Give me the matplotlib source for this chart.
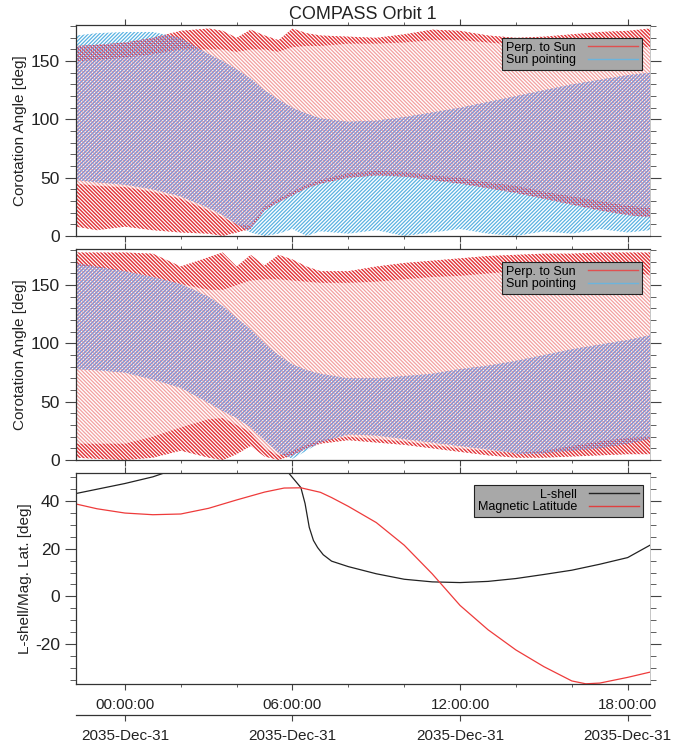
import numpy as np
import matplotlib
matplotlib.use('Agg')
import matplotlib.pyplot as plt
from matplotlib.lines import Line2D
from matplotlib.path import Path
from matplotlib.ticker import MultipleLocator

plt.rcParams['font.family'] = ['Liberation Sans', 'DejaVu Sans']
plt.rcParams['hatch.linewidth'] = 0.9
plt.rcParams['axes.unicode_minus'] = False

# time axis in hours from 2035-Dec-31 00:00
t_band = [-1.75, -1, 0, 1, 2, 3, 3.5, 4, 4.5, 5, 5.5, 6, 6.5, 7, 8, 9, 10, 11,
          12, 13, 14, 15, 16, 17, 18, 18.8]

# panel 1: corotation angle ranges [deg]
p1_red_lo = [8, 5, 8, 5, 3, 2, 0, 3, 6, 22, 29, 35, 41, 45, 50, 52, 51, 48,
             45, 41, 37, 32, 27, 22, 18, 16]
p1_red_lo_in = [45, 43, 42, 38, 32, 22, 16, 10, 9, 25, 32, 38, 44, 48, 54, 56, 55, 52,
                50, 46, 43, 38, 34, 30, 26, 24]
p1_red_hi_in = [150, 151, 153, 156, 160, 160, 160, 158, 160, 160, 158, 162, 163, 163, 165, 165, 166, 168,
                168, 166, 164, 163, 163, 164, 163, 162]
p1_red_hi = [163, 164, 166, 170, 176, 178, 176, 170, 177, 172, 168, 178, 174, 172, 171, 170, 173, 177,
             176, 172, 170, 171, 173, 175, 176, 178]
p1_blue_lo = [48, 46, 44, 40, 34, 24, 18, 10, 3, 0, 2, 6, 0, 4, 2, 5, 0, 3,
              6, 2, 0, 4, 2, 6, 3, 5]
p1_blue_hi = [172, 174, 175, 175, 170, 156, 150, 143, 135, 125, 117, 110, 105, 101, 98, 99, 102, 106,
              110, 115, 120, 125, 130, 134, 138, 140]

# panel 2
p2_red_lo = [2, 1, 0, 2, 8, 2, 0, 5, 12, 3, 0, 4, 10, 14, 17, 15, 13, 10,
             7, 4, 2, 2, 3, 4, 5, 5]
p2_red_lo_in = [14, 14, 14, 20, 28, 35, 36, 30, 24, 10, 4, 8, 13, 17, 20, 18, 16, 13,
                10, 8, 6, 8, 12, 16, 19, 20]
p2_red_hi_in = [167, 165, 162, 157, 151, 146, 146, 150, 154, 155, 155, 154, 153, 152, 152, 153, 155, 157,
                158, 160, 162, 162, 161, 160, 160, 159]
p2_red_hi = [178, 178, 178, 177, 166, 174, 178, 166, 176, 167, 176, 172, 166, 162, 162, 166, 169, 171,
             173, 175, 176, 177, 177, 178, 178, 178]
p2_blue_lo = [78, 77, 75, 69, 62, 49, 42, 36, 28, 17, 6, 1, 8, 15, 22, 21, 18, 15,
              12, 9, 6, 6, 8, 10, 14, 18]
p2_blue_hi = [169, 166, 162, 157, 151, 140, 132, 122, 112, 100, 90, 82, 77, 74, 70, 70, 72, 74,
              78, 81, 85, 90, 95, 99, 103, 107]

# panel 3: L-shell and magnetic latitude
t_lshell = [-1.75, -1, 0, 1, 1.4, 2, 3, 4, 5, 5.5, 5.85, 6.1, 6.3, 6.45, 6.6, 6.75, 6.9,
            7.1, 7.4, 8, 9, 10, 11, 12, 13, 14, 15, 16, 17, 18, 18.8]
lshell = [43.2, 45, 47.4, 50.2, 51.8, 54, 57, 58, 57, 55, 52, 48.5, 45.7, 39, 29, 23.5, 20.5,
          17.5, 14.8, 12.5, 9.5, 7.2, 6.1, 5.8, 6.3, 7.5, 9.2, 11.0, 13.5, 16.3, 21.5]
t_maglat = [-1.75, -1, 0, 1, 2, 3, 4, 5, 5.7, 6.3, 7, 7.4, 8, 9, 10, 11, 12, 13, 14,
            15, 16, 16.5, 17, 18, 18.8]
maglat = [38.8, 36.8, 35.0, 34.3, 34.6, 37.0, 40.5, 43.8, 45.5, 45.6, 43.7, 41.5, 37.8, 31, 21.5, 9.5,
          -3.8, -14, -22.5, -29.5, -35.5, -36.7, -36.4, -34, -31.8]

tick_hours = [0, 6, 12, 18]
time_labels = ['00:00:00', '06:00:00', '12:00:00', '18:00:00']
date_labels = ['2035-Dec-31', '2035-Dec-31', '2035-Dec-31', '2035-Dec-31']

red_dark = '#e3353a'
red_light = '#f3a0a0'
blue_sky = '#5ab2e2'
blue_mix = '#8a92d4'
txt_c = '#222222'
hatch_red = '\\' * 9
hatch_blue = '/' * 9

fig = plt.figure(figsize=(6.74, 7.44), dpi=100)
ax1 = fig.add_axes([0.1128, 0.6828, 0.8516, 0.2836])
ax2 = fig.add_axes([0.1128, 0.3817, 0.8516, 0.2836])
ax3 = fig.add_axes([0.1128, 0.0806, 0.8516, 0.2836])


def style_axes(ax, ymajor, yminor):
    ax.set_xlim(-1.75, 18.8)
    ax.set_xticks(tick_hours)
    ax.xaxis.set_minor_locator(MultipleLocator(2))
    ax.yaxis.set_major_locator(MultipleLocator(ymajor))
    ax.yaxis.set_minor_locator(MultipleLocator(yminor))
    ax.tick_params(axis='both', which='both', direction='out', top=True, right=True,
                   colors='#444444', labelcolor=txt_c)
    ax.tick_params(axis='y', which='major', length=8, width=0.8, labelsize=12.5)
    ax.tick_params(axis='y', which='minor', length=4, width=0.6)
    ax.tick_params(axis='x', which='major', length=4, width=0.8, labelsize=11, pad=6)
    ax.tick_params(axis='x', which='minor', length=2.5, width=0.6)
    for s in ['left', 'bottom', 'top']:
        ax.spines[s].set_color('#333333')
        ax.spines[s].set_linewidth(0.9)
    ax.spines['right'].set_color('#bbbbbb')
    ax.spines['right'].set_linewidth(0.6)


def draw_bands(ax, r_lo, r_lo_in, r_hi_in, r_hi, b_lo, b_hi):
    ax.fill_between(t_band, b_lo, b_hi, facecolor='none', edgecolor=blue_sky,
                    hatch=hatch_blue, linewidth=0)
    red_env = ax.fill_between(t_band, r_lo, r_hi, facecolor='none', edgecolor=red_light,
                              hatch=hatch_red, linewidth=0)
    ax.fill_between(t_band, r_lo, r_lo_in, facecolor='none', edgecolor=red_dark,
                    hatch=hatch_red, linewidth=0)
    ax.fill_between(t_band, r_hi_in, r_hi, facecolor='none', edgecolor=red_dark,
                    hatch=hatch_red, linewidth=0)
    # where both ranges overlap the blue hatch looks darker (purple crossing)
    mix = ax.fill_between(t_band, b_lo, b_hi, facecolor='none', edgecolor=blue_mix,
                          hatch=hatch_blue, linewidth=0)
    clip = Path.make_compound_path(*red_env.get_paths())
    mix.set_clip_path(clip, ax.transData)


def add_legend(ax, colors, labels, anchor):
    handles = [Line2D([], [], color=c, lw=1.0) for c in colors]
    leg = ax.legend(handles, labels, loc='upper right', bbox_to_anchor=anchor,
                    markerfirst=False, fancybox=False, framealpha=1,
                    facecolor='#a8a8a8', edgecolor='#222222', fontsize=9,
                    handlelength=4.0, handletextpad=1.0, borderpad=0.3,
                    labelspacing=0.05, borderaxespad=0)
    leg.get_frame().set_linewidth(0.8)


# 上面两个面板: 共转角范围
draw_bands(ax1, p1_red_lo, p1_red_lo_in, p1_red_hi_in, p1_red_hi, p1_blue_lo, p1_blue_hi)
draw_bands(ax2, p2_red_lo, p2_red_lo_in, p2_red_hi_in, p2_red_hi, p2_blue_lo, p2_blue_hi)
for ax in [ax1, ax2]:
    style_axes(ax, 50, 10)
    ax.set_ylim(0, 181)
    ax.set_xticklabels([])
    ax.set_ylabel('Corotation Angle [deg]', fontsize=11, color=txt_c, labelpad=3)
    add_legend(ax, ['#e05050', '#6cb4dc'], ['Perp. to Sun', 'Sun pointing'], (0.986, 0.938))

ax1.set_title('COMPASS Orbit 1', fontsize=13, color=txt_c, pad=4)

# 底部面板: L-shell 和磁纬度
ax3.plot(t_lshell, lshell, color='#222222', lw=0.9)
ax3.plot(t_maglat, maglat, color='#ee3b3b', lw=0.9)
style_axes(ax3, 20, 5)
ax3.set_ylim(-36.8, 51.8)
ax3.set_xticklabels(time_labels)
ax3.set_ylabel('L-shell/Mag. Lat. [deg]', fontsize=11, color=txt_c, labelpad=2)
add_legend(ax3, ['#222222', '#e04040'], ['L-shell', 'Magnetic Latitude'], (0.988, 0.943))

# 日期轴
sec = ax3.secondary_xaxis(-0.147)
sec.set_xticks(tick_hours)
sec.set_xticklabels(date_labels)
sec.tick_params(axis='x', direction='out', length=4, width=0.8, labelsize=11,
                colors='#444444', labelcolor=txt_c, pad=6)
sec.spines['bottom'].set_color('#333333')
sec.spines['bottom'].set_linewidth(0.9)

plt.savefig('out.png', dpi=100)
